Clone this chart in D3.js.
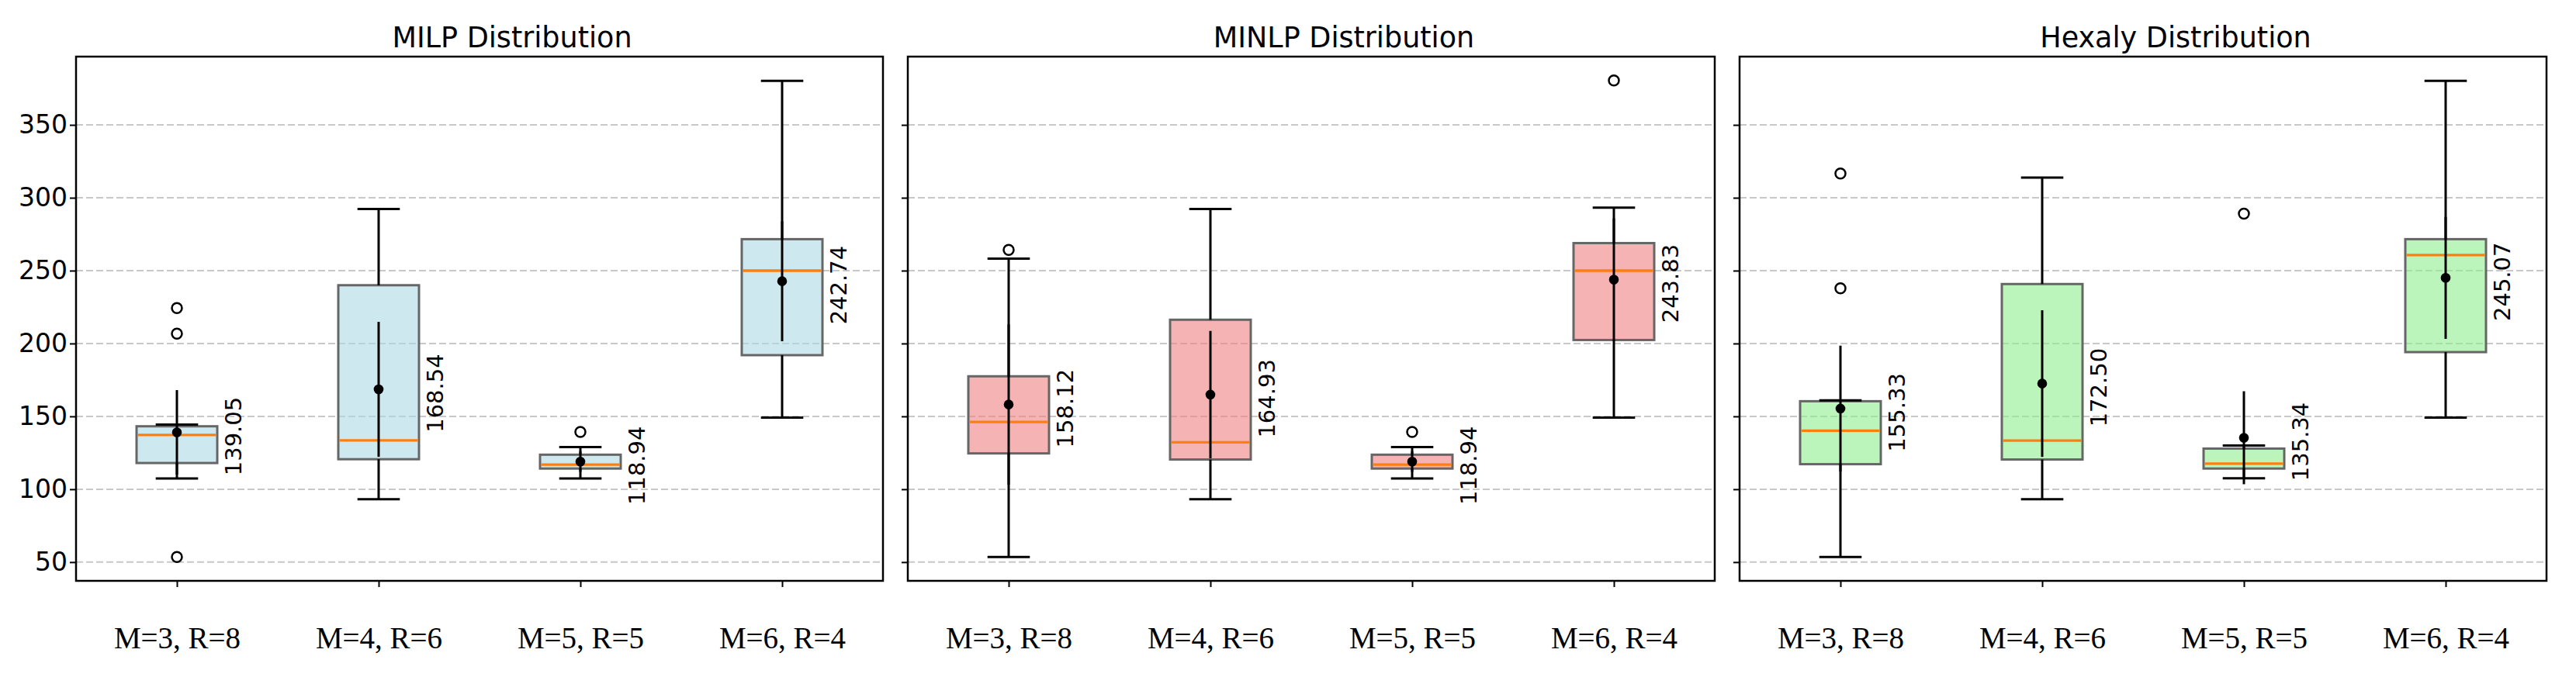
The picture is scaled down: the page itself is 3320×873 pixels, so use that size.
<!DOCTYPE html>
<html>
<head>
<meta charset="utf-8">
<script src="https://cdn.jsdelivr.net/npm/d3@7"></script>
<style>
  body { margin: 0; background: #fff; }
  svg { display: block; }
</style>
</head>
<body>
<div id="vis"></div>
<script>
const FRAME_WIDTH = 3320;
const FRAME_HEIGHT = 873;
const PANEL_LEFT = 98;
const PANEL_WIDTH = 1040;
const PANEL_STEP = 1072;
const PLOT_TOP = 73;
const PLOT_BOTTOM = 749;

// chart data
const titles = ["MILP Distribution", "MINLP Distribution", "Hexaly Distribution"];
const categories = ["M=3, R=8", "M=4, R=6", "M=5, R=5", "M=6, R=4"];
const yTicks = [50, 100, 150, 200, 250, 300, 350];

// one row per panel, one value per category
const whiskerLow = [
  [107.4, 93.2, 107.4, 149.1],
  [53.5, 93.2, 107.4, 149.1],
  [53.5, 93.2, 107.5, 149.1]
];
const q1 = [
  [118.0, 120.6, 114.2, 192.0],
  [124.6, 120.4, 114.2, 202.4],
  [117.2, 120.4, 114.2, 194.1]
];
const medians = [
  [137.3, 133.5, 116.9, 250.0],
  [146.2, 132.2, 116.9, 250.0],
  [140.2, 133.4, 117.6, 260.7]
];
const q3 = [
  [143.2, 240.0, 123.7, 271.6],
  [177.5, 216.3, 123.7, 268.9],
  [160.4, 240.8, 127.9, 271.6]
];
const whiskerHigh = [
  [144.4, 292.3, 129.0, 380.2],
  [258.3, 292.3, 129.0, 293.2],
  [161.0, 313.9, 130.0, 380.2]
];
const means = [
  [139.05, 168.54, 118.94, 242.74],
  [158.12, 164.93, 118.94, 243.83],
  [155.33, 172.50, 135.34, 245.07]
];
const stds = [
  [29.0, 46.3, 7.0, 41.2],
  [55.0, 43.7, 7.0, 42.0],
  [43.2, 50.3, 31.9, 41.9]
];
const outliers = [
  [[224.3, 206.8, 53.5], [], [139.3], []],
  [[264.2], [], [139.3], [380.5]],
  [[316.6, 237.9], [], [289.1], []]
];

const boxFills = ["lightblue", "lightcoral", "lightgreen"];

const svg = d3.select("#vis")
  .append("svg")
    .attr("width", FRAME_WIDTH)
    .attr("height", FRAME_HEIGHT);

// shared y scale, matplotlib-style 5% padding
const allVals = whiskerLow.flat().concat(whiskerHigh.flat(), outliers.flat(2));
const yMin = d3.min(allVals), yMax = d3.max(allVals);
const pad = (yMax - yMin) * 0.05;
const Y_SCALE = d3.scaleLinear()
  .domain([yMin - pad, yMax + pad])
  .range([PLOT_BOTTOM, PLOT_TOP]);

titles.forEach((title, p) => {
  const left = PANEL_LEFT + p * PANEL_STEP;
  const X_SCALE = d3.scaleLinear()
    .domain([0.5, 4.5])
    .range([left, left + PANEL_WIDTH]);
  const unit = X_SCALE(2) - X_SCALE(1);
  const boxW = 0.4 * unit;
  const capW = 0.21 * unit;

  const g = svg.append("g");

  // grid
  g.selectAll(".grid")
    .data(yTicks)
    .enter()
    .append("line")
      .attr("x1", left).attr("x2", left + PANEL_WIDTH)
      .attr("y1", d => Y_SCALE(d)).attr("y2", d => Y_SCALE(d))
      .attr("stroke", "#c8c8c8")
      .attr("stroke-width", 2)
      .attr("stroke-dasharray", "9,4");

  const rows = categories.map((c, i) => ({
    pos: i + 1,
    lo: whiskerLow[p][i], q1: q1[p][i], med: medians[p][i],
    q3: q3[p][i], hi: whiskerHigh[p][i],
    mean: means[p][i], std: stds[p][i], fl: outliers[p][i]
  }));

  const box = g.selectAll(".box")
    .data(rows)
    .enter()
    .append("g");

  // boxes
  box.append("rect")
    .attr("x", d => X_SCALE(d.pos) - boxW / 2)
    .attr("width", boxW)
    .attr("y", d => Y_SCALE(d.q3))
    .attr("height", d => Y_SCALE(d.q1) - Y_SCALE(d.q3))
    .attr("fill", boxFills[p])
    .attr("fill-opacity", 0.6)
    .attr("stroke", "#666")
    .attr("stroke-width", 3);

  // whiskers
  box.append("line")
    .attr("x1", d => X_SCALE(d.pos)).attr("x2", d => X_SCALE(d.pos))
    .attr("y1", d => Y_SCALE(d.q1)).attr("y2", d => Y_SCALE(d.lo))
    .attr("stroke", "#000").attr("stroke-width", 3);
  box.append("line")
    .attr("x1", d => X_SCALE(d.pos)).attr("x2", d => X_SCALE(d.pos))
    .attr("y1", d => Y_SCALE(d.q3)).attr("y2", d => Y_SCALE(d.hi))
    .attr("stroke", "#000").attr("stroke-width", 3);

  // caps
  ["lo", "hi"].forEach(k => {
    box.append("line")
      .attr("x1", d => X_SCALE(d.pos) - capW / 2)
      .attr("x2", d => X_SCALE(d.pos) + capW / 2)
      .attr("y1", d => Y_SCALE(d[k])).attr("y2", d => Y_SCALE(d[k]))
      .attr("stroke", "#000").attr("stroke-width", 3);
  });

  // median
  box.append("line")
    .attr("x1", d => X_SCALE(d.pos) - boxW / 2 + 1.5)
    .attr("x2", d => X_SCALE(d.pos) + boxW / 2 - 1.5)
    .attr("y1", d => Y_SCALE(d.med)).attr("y2", d => Y_SCALE(d.med))
    .attr("stroke", "#ff7f0e").attr("stroke-width", 3.3);

  // outliers
  box.selectAll(".flier")
    .data(d => d.fl.map(v => ({pos: d.pos, v: v})))
    .enter()
    .append("circle")
      .attr("cx", d => X_SCALE(d.pos))
      .attr("cy", d => Y_SCALE(d.v))
      .attr("r", 6.5)
      .attr("fill", "none")
      .attr("stroke", "#000")
      .attr("stroke-width", 2.5);

  // mean +/- std
  box.append("line")
    .attr("x1", d => X_SCALE(d.pos)).attr("x2", d => X_SCALE(d.pos))
    .attr("y1", d => Y_SCALE(d.mean - d.std)).attr("y2", d => Y_SCALE(d.mean + d.std))
    .attr("stroke", "#000").attr("stroke-width", 3);
  box.append("circle")
    .attr("cx", d => X_SCALE(d.pos))
    .attr("cy", d => Y_SCALE(d.mean))
    .attr("r", 6.3)
    .attr("fill", "#000");

  // mean labels
  box.append("text")
    .attr("transform", d => "translate(" + (X_SCALE(d.pos) + 0.24 * unit + 21) + "," + (Y_SCALE(d.mean) + 5) + ") rotate(-90)")
    .attr("text-anchor", "middle")
    .attr("font-family", "DejaVu Sans")
    .attr("font-size", "29px")
    .attr("fill", "#000")
    .text(d => d.mean.toFixed(2));

  // y axis
  const yAxis = g.append("g")
    .attr("transform", "translate(" + left + ",0)")
    .call(d3.axisLeft(Y_SCALE).tickValues(yTicks).tickSize(8).tickPadding(3)
      .tickFormat(p === 0 ? d3.format("d") : () => ""));
  yAxis.select(".domain").remove();
  yAxis.selectAll("line").attr("stroke", "#000").attr("stroke-width", 2);
  yAxis.selectAll("text")
    .attr("font-family", "DejaVu Sans")
    .attr("font-size", "33px")
    .attr("fill", "#000");

  // x axis
  const xAxis = g.append("g")
    .attr("transform", "translate(0," + PLOT_BOTTOM + ")")
    .call(d3.axisBottom(X_SCALE).tickValues([1, 2, 3, 4]).tickSize(8)
      .tickFormat(d => categories[d - 1]));
  xAxis.select(".domain").remove();
  xAxis.selectAll("line").attr("stroke", "#000").attr("stroke-width", 2);
  xAxis.selectAll("text")
    .attr("y", 87)
    .attr("dy", 0)
    .attr("font-family", "Liberation Serif")
    .attr("font-size", "39px")
    .attr("fill", "#000");

  // frame
  g.append("rect")
    .attr("x", left).attr("y", PLOT_TOP)
    .attr("width", PANEL_WIDTH).attr("height", PLOT_BOTTOM - PLOT_TOP)
    .attr("fill", "none")
    .attr("stroke", "#000")
    .attr("stroke-width", 2.5);

  // title
  g.append("text")
    .attr("x", left + PANEL_WIDTH / 2 + 42)
    .attr("y", 61)
    .attr("text-anchor", "middle")
    .attr("font-family", "DejaVu Sans")
    .attr("font-size", "36.5px")
    .attr("fill", "#000")
    .text(title);
});
</script>
</body>
</html>
